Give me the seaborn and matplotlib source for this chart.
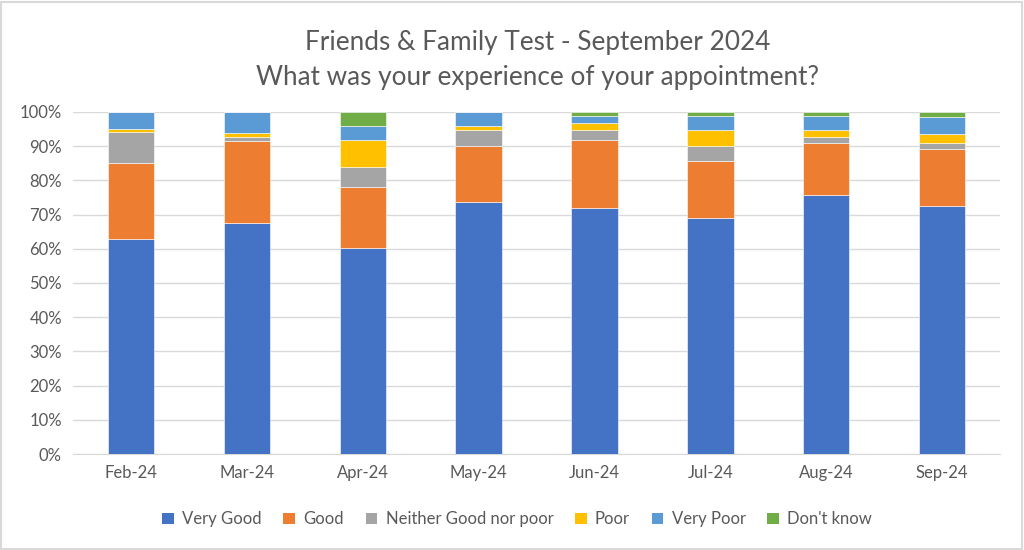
import matplotlib
matplotlib.use("Agg")
import matplotlib.pyplot as plt
from matplotlib.patches import Patch, Rectangle
import pandas as pd
import seaborn as sns

months = ["Feb-24", "Mar-24", "Apr-24", "May-24", "Jun-24", "Jul-24", "Aug-24", "Sep-24"]
very_good = [63.0, 67.6, 60.1, 73.8, 71.8, 68.9, 75.7, 72.6]
good = [22.0, 24.0, 17.9, 16.1, 20.0, 16.9, 15.1, 16.5]
neither = [9.0, 1.2, 5.9, 4.8, 2.9, 4.1, 2.0, 1.9]
poor = [1.0, 1.0, 8.0, 1.2, 2.2, 4.8, 1.9, 2.5]
very_poor = [5.0, 6.2, 4.0, 4.1, 1.9, 4.2, 4.1, 5.1]
dont_know = [0.0, 0.0, 4.1, 0.0, 1.2, 1.1, 1.2, 1.4]

series = ["Very Good", "Good", "Neither Good nor poor", "Poor", "Very Poor", "Don't know"]
colors = ["#4472C4", "#ED7D31", "#A5A5A5", "#FFC000", "#5B9BD5", "#70AD47"]

df = pd.DataFrame({
    "Month": months,
    "Very Good": very_good,
    "Good": good,
    "Neither Good nor poor": neither,
    "Poor": poor,
    "Very Poor": very_poor,
    "Don't know": dont_know,
})

sns.set_style("white")
plt.rcParams["font.family"] = ["Lato", "DejaVu Sans"]
text_col = "#595959"

fig = plt.figure(figsize=(10.24, 5.5), dpi=100)
ax = fig.add_axes([0.0713, 0.1745, 0.9053, 0.622])

# stack the series one on top of the other
bottom = pd.Series([0.0] * len(months))
for name, col in zip(series, colors):
    sns.barplot(x=df["Month"], y=df[name], bottom=bottom, color=col, width=0.4,
                saturation=1, edgecolor="white", linewidth=0.4, ax=ax, zorder=3)
    bottom = bottom + df[name]

ax.set_xlim(-0.5, len(months) - 0.5)
ax.set_ylim(0, 100)
ax.set_yticks(range(0, 101, 10))
ax.set_yticklabels([f"{v}%" for v in range(0, 101, 10)])
ax.yaxis.grid(True, color="#D9D9D9", linewidth=1, zorder=0)
ax.set_xlabel("")
ax.set_ylabel("")
for s in ["top", "right", "left"]:
    ax.spines[s].set_visible(False)
ax.spines["bottom"].set_color("#D9D9D9")
ax.tick_params(axis="both", length=0, labelsize=12, colors=text_col, pad=8)

fig.text(0.525, 0.922, "Friends & Family Test - September 2024", ha="center", va="center",
         fontsize=18.8, color=text_col)
fig.text(0.525, 0.86, "What was your experience of your appointment?", ha="center", va="center",
         fontsize=18.8, color=text_col)

handles = [Patch(facecolor=c, edgecolor="none") for c in colors]
fig.legend(handles, series, loc="center", bbox_to_anchor=(0.505, 0.056), ncol=6, frameon=False,
           fontsize=12, labelcolor=text_col, handlelength=0.7, handleheight=0.7,
           handletextpad=0.5, columnspacing=1.3)

fig.add_artist(Rectangle((0.001, 0.002), 0.997, 0.995, transform=fig.transFigure,
                         fill=False, edgecolor="#D9D9D9", linewidth=1.5))

fig.savefig("out.png", dpi=100, facecolor="white")
